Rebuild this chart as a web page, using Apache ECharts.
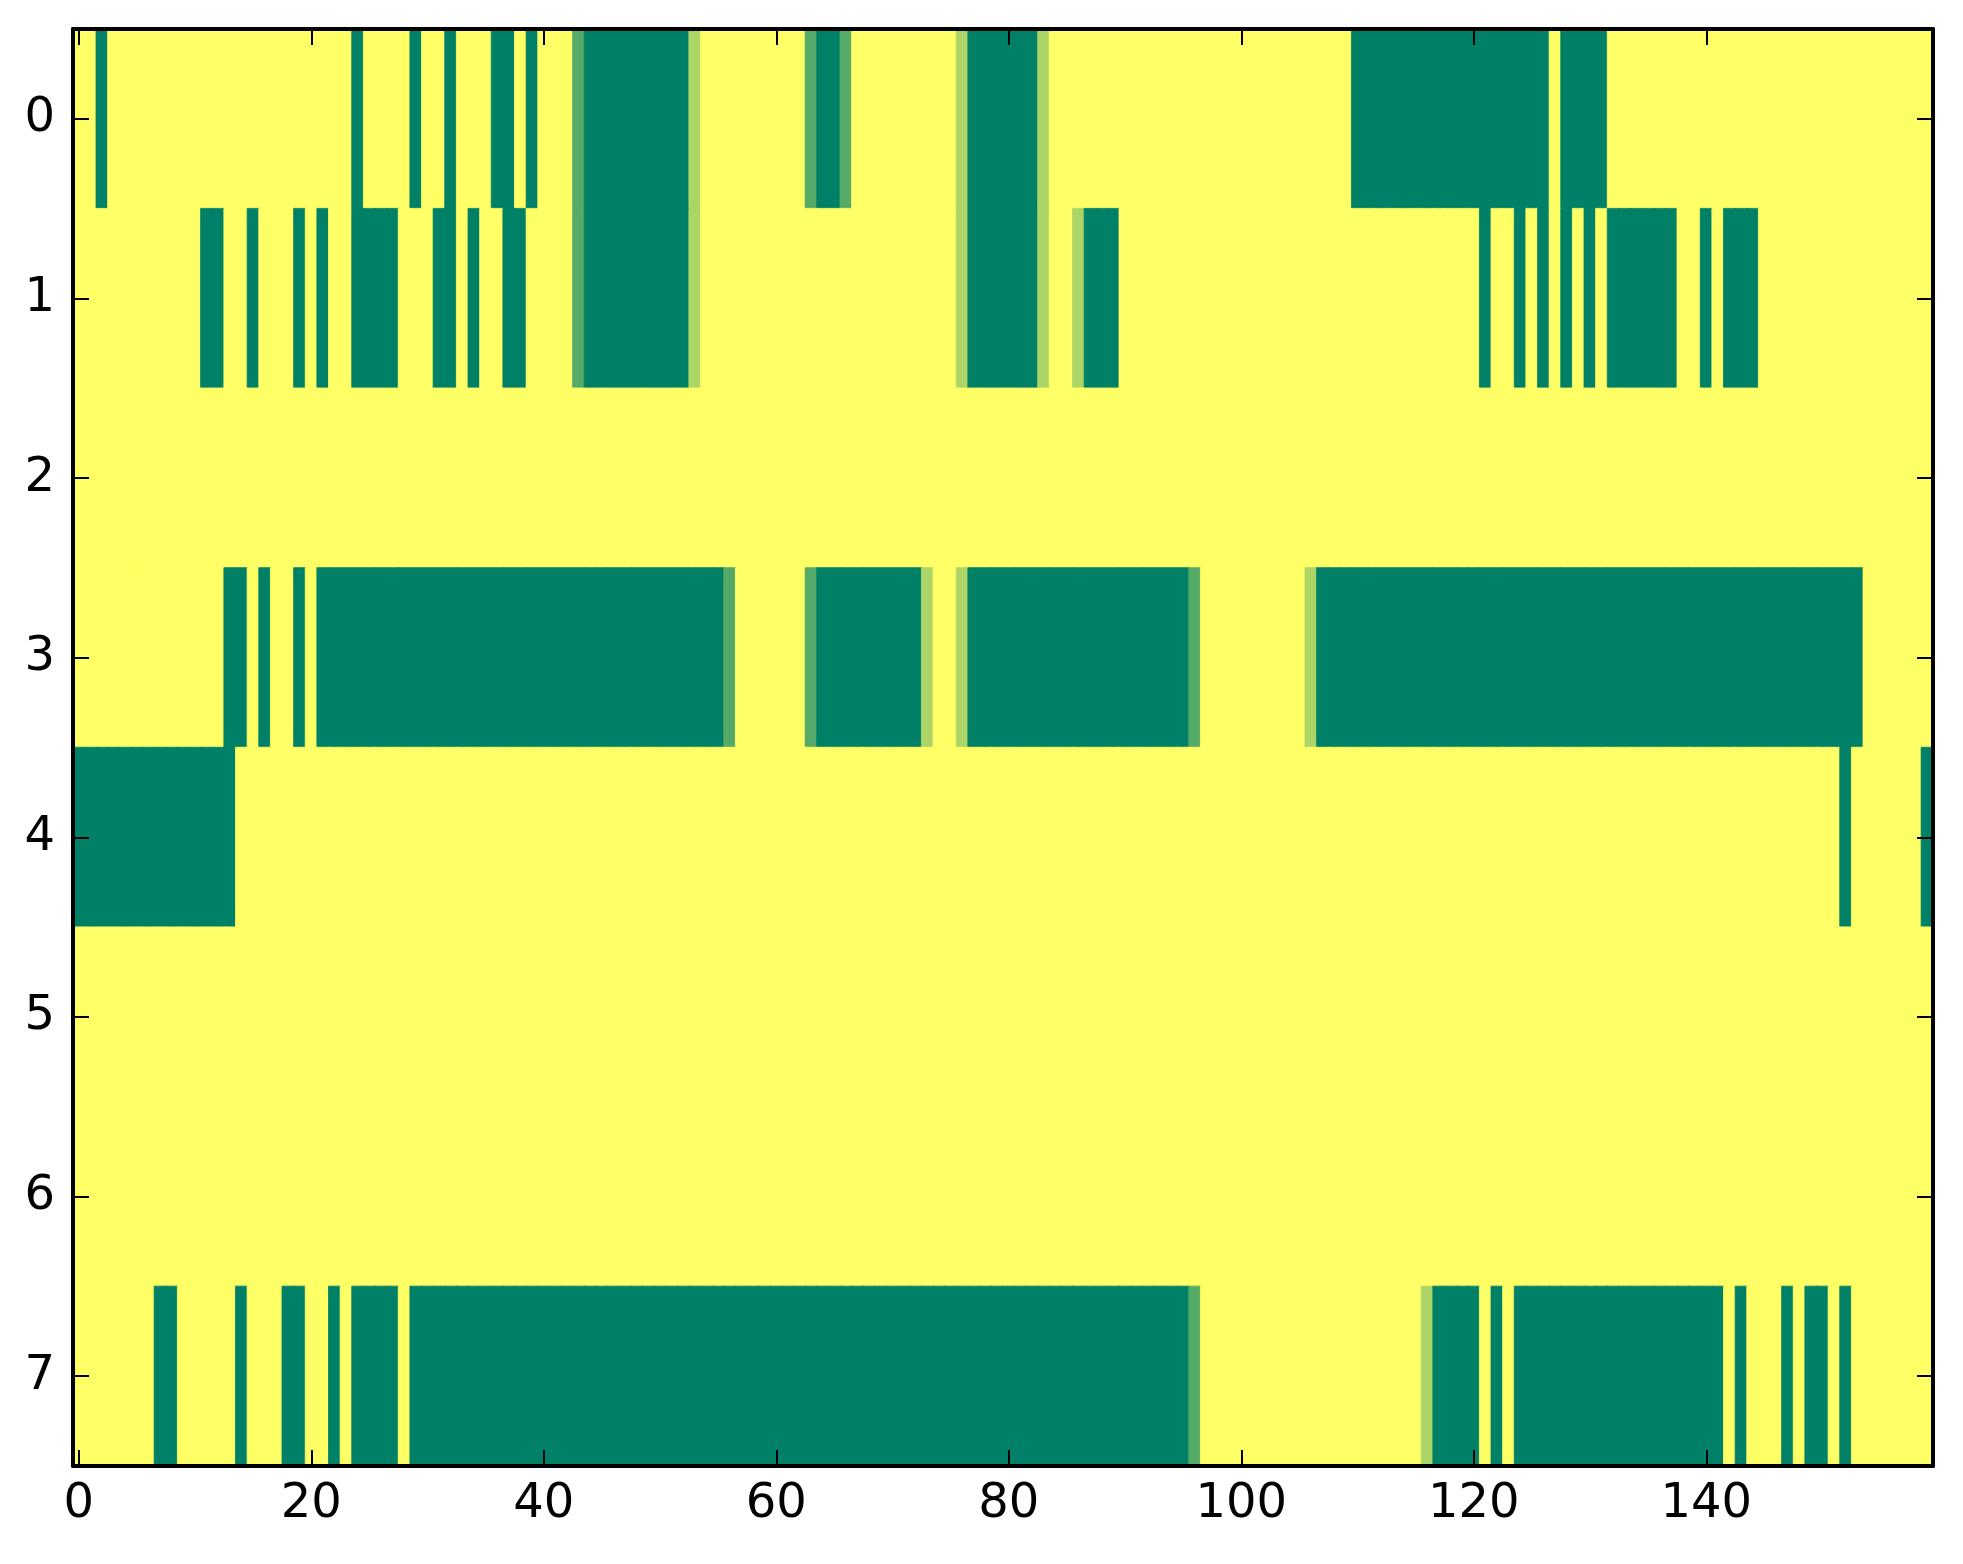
<!DOCTYPE html>
<html>
<head>
<meta charset="utf-8">
<script src="https://cdn.jsdelivr.net/npm/echarts@6/dist/echarts.min.js"></script>
<style>
html,body{margin:0;padding:0;background:#fff;}
#chart{width:1963px;height:1564px;}
</style>
</head>
<body>
<div id="chart"></div>
<script>
// Column categories 0..159 and row categories 0..7
const xCount = 160;
const yCategories = ['0','1','2','3','4','5','6','7'];
const xTickLabels = ['0','20','40','60','80','100','120','140'];
// Each row: runs [startCol, endCol, value]; cells not listed have value 1
const row0 = [[2,2,0],[24,24,0],[29,29,0],[32,32,0],[36,37,0],[39,39,0],[43,43,0.33],[44,52,0],[53,53,0.67],[63,63,0.33],[64,65,0],[66,66,0.33],[76,76,0.67],[77,82,0],[83,83,0.67],[110,126,0],[128,131,0]];
const row1 = [[11,12,0],[15,15,0],[19,19,0],[21,21,0],[24,27,0],[31,32,0],[34,34,0],[37,38,0],[43,43,0.33],[44,52,0],[53,53,0.67],[76,76,0.67],[77,82,0],[83,83,0.67],[86,86,0.67],[87,89,0],[121,121,0],[124,124,0],[126,126,0],[128,128,0],[130,130,0],[132,137,0],[140,140,0],[142,144,0]];
const row2 = [];
const row3 = [[13,14,0],[16,16,0],[19,19,0],[21,55,0],[56,56,0.33],[63,63,0.33],[64,72,0],[73,73,0.67],[76,76,0.67],[77,95,0],[96,96,0.33],[106,106,0.67],[107,153,0]];
const row4 = [[0,13,0],[152,152,0],[159,159,0]];
const row5 = [];
const row6 = [];
const row7 = [[7,8,0],[14,14,0],[18,19,0],[22,22,0],[24,27,0],[29,95,0],[96,96,0.33],[116,116,0.67],[117,120,0],[122,122,0],[124,141,0],[143,143,0],[147,147,0],[149,150,0],[152,152,0]];
const rows = [row0,row1,row2,row3,row4,row5,row6,row7];

const xCategories = [];
for (let i = 0; i < xCount; i++) xCategories.push(String(i));

// "summer" colormap: (v, 0.5+0.5v, 0.4)
function summer(v) {
  const r = Math.round(255 * v), g = Math.round(255 * (0.5 + 0.5 * v)), b = Math.round(255 * 0.4);
  return 'rgb(' + r + ',' + g + ',' + b + ')';
}

const cells = [];
rows.forEach((runs, r) => {
  const vals = new Array(xCount).fill(1);
  runs.forEach(([s, e, v]) => { for (let c = s; c <= e; c++) vals[c] = v; });
  vals.forEach((v, c) => {
    const col = summer(v);
    cells.push({value:[c, r, v], itemStyle:{color:col, borderColor:col, borderWidth:0.8}});
  });
});

const font = 'DejaVu Sans';
const tickStyle = {show:true, inside:true, length:16, alignWithLabel:true, lineStyle:{color:'#000', width:2}};
const lineStyle = {show:true, onZero:false, lineStyle:{color:'#000', width:4}};

const chart = echarts.init(document.getElementById('chart'), null, {renderer:'canvas'});
chart.setOption({
  backgroundColor:'#fff',
  animation:false,
  grid:{left:73, right:30, top:29, bottom:98, containLabel:false},
  xAxis:[
    {type:'category', position:'bottom', data:xCategories, boundaryGap:true, z:10,
     axisLine:lineStyle, axisTick:Object.assign({}, tickStyle, {interval:19}),
     axisLabel:{interval:19, margin:15, color:'#000', fontFamily:font, fontSize:48,
       formatter:(v)=> xTickLabels.includes(v) ? v : ''},
     splitLine:{show:false}},
    {type:'category', position:'top', data:xCategories, boundaryGap:true, z:10,
     axisLine:lineStyle, axisTick:Object.assign({}, tickStyle, {interval:19}),
     axisLabel:{show:false}, splitLine:{show:false}}
  ],
  yAxis:[
    {type:'category', position:'left', data:yCategories, inverse:true, boundaryGap:true, z:10,
     axisLine:lineStyle, axisTick:Object.assign({}, tickStyle, {interval:0}),
     axisLabel:{interval:0, margin:18, color:'#000', fontFamily:font, fontSize:48},
     splitLine:{show:false}},
    {type:'category', position:'right', data:yCategories, inverse:true, boundaryGap:true, z:10,
     axisLine:lineStyle, axisTick:Object.assign({}, tickStyle, {interval:0}),
     axisLabel:{show:false}, splitLine:{show:false}}
  ],
  series:[{
    type:'heatmap', xAxisIndex:0, yAxisIndex:0, data:cells, z:1,
    progressive:0, emphasis:{disabled:true}
  }]
});
</script>
</body>
</html>
